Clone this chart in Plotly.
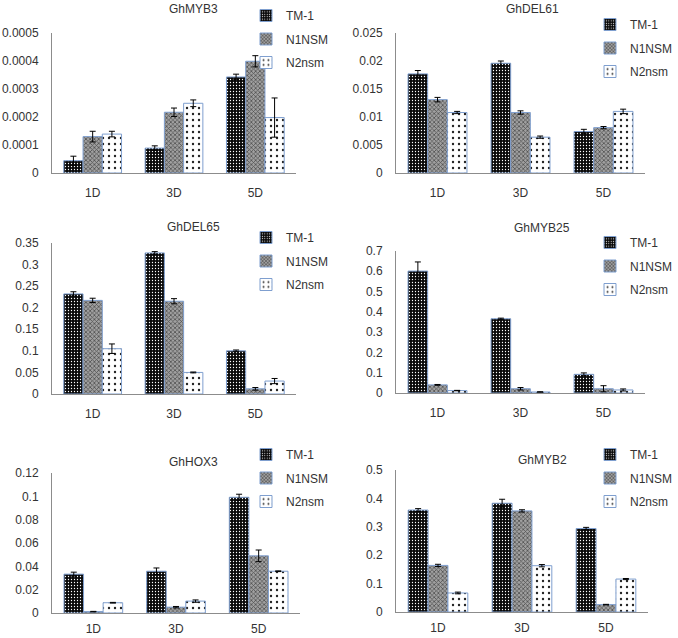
import plotly.graph_objects as go

# ---------------- data ----------------
CATEGORIES = ["1D", "3D", "5D"]
SERIES = ["TM-1", "N1NSM", "N2nsm"]

GENES = ["GhMYB3", "GhDEL61", "GhDEL65", "GhMYB25", "GhHOX3", "GhMYB2"]

# values per gene: rows = series (TM-1, N1NSM, N2nsm), cols = categories
MYB3_VALUES = [[0.000044, 0.000089, 0.000343],
               [0.000130, 0.000217, 0.000399],
               [0.000139, 0.000249, 0.000198]]
MYB3_ERRORS = [[0.000016, 0.000008, 0.000010],
               [0.000019, 0.000015, 0.000020],
               [0.000010, 0.000012, 0.000070]]

DEL61_VALUES = [[0.0177, 0.0196, 0.0074],
                [0.0131, 0.0108, 0.0081],
                [0.0108, 0.0064, 0.0110]]
DEL61_ERRORS = [[0.0006, 0.0004, 0.0004],
                [0.0004, 0.0003, 0.0002],
                [0.0002, 0.0002, 0.0004]]

DEL65_VALUES = [[0.232, 0.327, 0.100],
                [0.217, 0.215, 0.012],
                [0.105, 0.050, 0.030]]
DEL65_ERRORS = [[0.005, 0.003, 0.002],
                [0.005, 0.006, 0.003],
                [0.011, 0.001, 0.006]]

MYB25_VALUES = [[0.601, 0.366, 0.092],
                [0.040, 0.021, 0.021],
                [0.012, 0.005, 0.015]]
MYB25_ERRORS = [[0.045, 0.003, 0.007],
                [0.002, 0.006, 0.015],
                [0.001, 0.001, 0.005]]

HOX3_VALUES = [[0.0333, 0.0358, 0.0992],
               [0.0012, 0.0050, 0.0490],
               [0.0088, 0.0102, 0.0358]]
HOX3_ERRORS = [[0.0017, 0.0028, 0.0026],
               [0.0002, 0.0006, 0.0050],
               [0.0003, 0.0010, 0.0003]]

MYB2_VALUES = [[0.359, 0.383, 0.294],
               [0.164, 0.356, 0.026],
               [0.067, 0.163, 0.116]]
MYB2_ERRORS = [[0.005, 0.014, 0.004],
               [0.004, 0.004, 0.001],
               [0.003, 0.004, 0.002]]

MYB3_TICKS = [0, 0.0001, 0.0002, 0.0003, 0.0004, 0.0005]
MYB3_TICKTEXT = ["0", "0.0001", "0.0002", "0.0003", "0.0004", "0.0005"]
DEL61_TICKS = [0, 0.005, 0.01, 0.015, 0.02, 0.025]
DEL61_TICKTEXT = ["0", "0.005", "0.01", "0.015", "0.02", "0.025"]
DEL65_TICKS = [0, 0.05, 0.1, 0.15, 0.2, 0.25, 0.3, 0.35]
DEL65_TICKTEXT = ["0", "0.05", "0.1", "0.15", "0.2", "0.25", "0.3", "0.35"]
MYB25_TICKS = [0, 0.1, 0.2, 0.3, 0.4, 0.5, 0.6, 0.7]
MYB25_TICKTEXT = ["0", "0.1", "0.2", "0.3", "0.4", "0.5", "0.6", "0.7"]
HOX3_TICKS = [0, 0.02, 0.04, 0.06, 0.08, 0.1, 0.12]
HOX3_TICKTEXT = ["0", "0.02", "0.04", "0.06", "0.08", "0.1", "0.12"]
MYB2_TICKS = [0, 0.1, 0.2, 0.3, 0.4, 0.5]
MYB2_TICKTEXT = ["0", "0.1", "0.2", "0.3", "0.4", "0.5"]

PANEL_VALUES = [MYB3_VALUES, DEL61_VALUES, DEL65_VALUES, MYB25_VALUES, HOX3_VALUES, MYB2_VALUES]
PANEL_ERRORS = [MYB3_ERRORS, DEL61_ERRORS, DEL65_ERRORS, MYB25_ERRORS, HOX3_ERRORS, MYB2_ERRORS]
PANEL_TICKS = [MYB3_TICKS, DEL61_TICKS, DEL65_TICKS, MYB25_TICKS, HOX3_TICKS, MYB2_TICKS]
PANEL_TICKTEXT = [MYB3_TICKTEXT, DEL61_TICKTEXT, DEL65_TICKTEXT, MYB25_TICKTEXT, HOX3_TICKTEXT, MYB2_TICKTEXT]

# ---------------- layout (pixels) ----------------
W, H = 678, 638
# plot area: x0, x1, ytop, ybottom
AREAS = [(52, 296, 33, 173), (396, 645, 33, 173),
         (52, 296, 243, 394), (396, 645, 251, 393),
         (52, 300, 473, 613), (396, 648, 470, 612)]
XLABEL_STANDOFF = [9, 9, 9, 9, 5, 5]
TITLE_POS = [(193, 9), (532, 9), (193, 227), (542, 228), (193, 462), (542, 460)]
LEGEND_POS = [(246, 1), (590, 10), (246, 223), (590, 228), (246, 440), (590, 440)]

STYLES = [
    dict(bg="#0a0a0a", fg="#ffffff", shape=".", size=3, solidity=0.15),
    dict(bg="#a0a0a0", fg="#505050", shape="x", size=3, solidity=0.45),
    dict(bg="#ffffff", fg="#222222", shape=".", size=6, solidity=0.12),
]
EDGE = "#7f9fcf"
FONT = "Liberation Sans, Arial, sans-serif"
TXT = "#333333"

def px(x):
    return x / W

def py(y):
    return 1 - y / H

fig = go.Figure()
layout = dict(width=W, height=H, margin=dict(l=0, r=0, t=0, b=0, autoexpand=False),
              paper_bgcolor="white", plot_bgcolor="white",
              barmode="group", bargap=0.29, bargroupgap=0,
              font=dict(family=FONT, size=12, color=TXT))
annotations = []

for p in range(6):
    sfx = "" if p == 0 else str(p + 1)
    xa, ya = "x" + sfx, "y" + sfx
    leg = "legend" + sfx
    for s in range(3):
        st = STYLES[s]
        fig.add_trace(go.Bar(
            x=CATEGORIES, y=PANEL_VALUES[p][s], name=SERIES[s],
            xaxis=xa, yaxis=ya, legend=leg, legendgroup=f"{p}-{s}",
            marker=dict(color=st["bg"], line=dict(color=EDGE, width=1),
                        pattern=dict(shape=st["shape"], bgcolor=st["bg"], fgcolor=st["fg"],
                                     size=st["size"], solidity=st["solidity"], fillmode="replace")),
            error_y=dict(type="data", array=PANEL_ERRORS[p][s], visible=True,
                         color="black", thickness=1, width=3),
        ))
    x0, x1, yt, yb = AREAS[p]
    layout["xaxis" + sfx] = dict(domain=[px(x0), px(x1)], anchor=ya,
                                 showgrid=False, zeroline=False, showline=True,
                                 linecolor="#8c8c8c", linewidth=1, ticks="",
                                 ticklabelstandoff=XLABEL_STANDOFF[p], fixedrange=True,
                                 automargin=False, tickfont=dict(size=12, color=TXT))
    ticks = PANEL_TICKS[p]
    layout["yaxis" + sfx] = dict(domain=[py(yb), py(yt)], anchor=xa,
                                 range=[0, ticks[-1]], tickvals=ticks, ticktext=PANEL_TICKTEXT[p],
                                 showgrid=False, zeroline=False, showline=True,
                                 linecolor="#8c8c8c", linewidth=1, ticks="",
                                 ticklabelstandoff=10, fixedrange=True, automargin=False,
                                 tickfont=dict(size=12, color=TXT))
    lx, ly = LEGEND_POS[p]
    layout[leg] = dict(x=px(lx), y=py(ly), xanchor="left", yanchor="top",
                       bgcolor="rgba(0,0,0,0)", tracegroupgap=4.5, itemwidth=30,
                       font=dict(size=12, color=TXT))
    tx, ty = TITLE_POS[p]
    annotations.append(dict(text=GENES[p], x=px(tx), y=py(ty), xref="paper", yref="paper",
                            xanchor="center", yanchor="middle", showarrow=False,
                            font=dict(size=12, color=TXT)))

layout["annotations"] = annotations
fig.update_layout(**layout)
fig.write_html("out.html", config={"displayModeBar": False},
               post_script="document.body.style.margin='0px';document.body.style.overflow='hidden';")
